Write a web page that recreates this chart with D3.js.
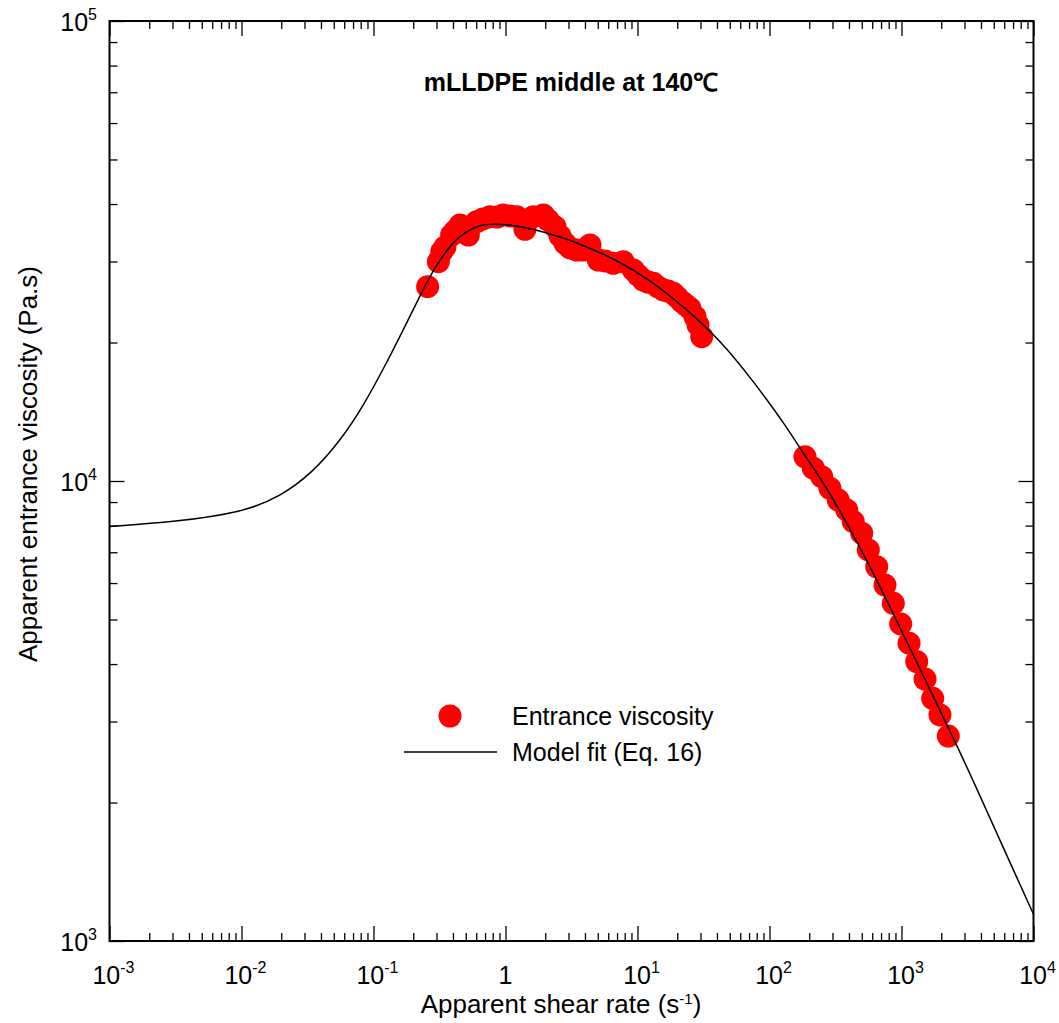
<!DOCTYPE html>
<html>
<head>
<meta charset="utf-8">
<script src="https://cdn.jsdelivr.net/npm/d3@7"></script>
<style>
  html, body { margin: 0; padding: 0; background: #fff; }
  svg { display: block; font-family: "Liberation Sans", Arial, sans-serif; }
</style>
</head>
<body>
<svg id="chart" width="1059" height="1023"></svg>
<script>
// Measured entrance viscosity: apparent shear rate (1/s) and viscosity (Pa.s)
const entranceRate = [
  0.257, 0.310, 0.329, 0.348, 0.391, 0.414, 0.452, 0.523, 0.605, 0.675, 0.763, 0.862,
  0.962, 1.082, 1.216, 1.405, 1.624, 1.933, 2.099, 2.371, 2.588, 2.824, 3.081, 3.462,
  3.865, 4.368, 5.047, 5.673, 6.557, 7.806, 9.294, 10.09, 11.06, 12.01, 13.17, 14.30,
  15.69, 17.02, 18.67, 19.92, 21.62, 23.30, 24.98, 27.27, 28.73, 30.65,
  185.7, 214.7, 248.6, 287.3, 331.9, 384.4, 431.3, 499.4, 560.4, 648.9, 749.9, 866.8,
  986, 1140, 1304, 1507, 1723, 1957, 2262
];
const entranceViscosity = [
  26450, 29980, 31510, 32270, 34260, 34950, 36010, 34260, 36620, 37120, 37550, 37490,
  37870, 37680, 37550, 35250, 37550, 37870, 36930, 35710, 34090, 32870, 32110, 31780,
  31780, 32590, 30230, 30080, 29740, 29980, 28760, 28040, 27350, 27070, 26900, 26410,
  26020, 25880, 25590, 25120, 24540, 24130, 23740, 22760, 21840, 20590,
  11290, 10660, 10220, 9640, 9090, 8650, 8160, 7700, 7080, 6510, 5940, 5420,
  4890, 4440, 4050, 3710, 3370, 3100, 2790
];

// Model fit (Eq. 16) sampled along the curve
const modelRate = [
  0.001, 0.00316, 0.01, 0.0196, 0.0348, 0.0557, 0.0832, 0.1265, 0.1795, 0.268,
  0.319, 0.400, 0.508, 0.641, 0.804, 1.081, 1.614, 2.588, 3.864, 7.0,
  12.45, 22.13, 42.17, 75.0, 135.8, 186.2, 251.2, 488.7, 863,
  1552, 2924, 5012, 10000
];
const modelViscosity = [
  7960, 8150, 8540, 9230, 10450, 12210, 14500, 18120, 22130, 28020,
  30200, 33110, 34910, 36060, 36220, 36060, 35320, 33960, 32580, 30200,
  27350, 23990, 20280, 16520, 13090, 11300, 10050, 7190, 5160,
  3640, 2500, 1770, 1143
];

// Axis decades (exponents)
const xDecades = [-3, -2, -1, 0, 1, 2, 3, 4];
const yDecades = [3, 4, 5];

const titleText = "mLLDPE middle at 140℃";
const legendLabels = ["Entrance viscosity", "Model fit (Eq. 16)"];

const svg = d3.select("#chart");
const plot = { left: 109.5, right: 1033.5, top: 21, bottom: 941 };

const x = d3.scaleLog().domain([1e-3, 1e4]).range([plot.left, plot.right]);
const y = d3.scaleLog().domain([1e3, 1e5]).range([plot.bottom, plot.top]);

// tick values: majors at decades, minors at 2..9 within each decade
const xMajor = xDecades.map(e => Math.pow(10, e));
const yMajor = yDecades.map(e => Math.pow(10, e));
const minorsOf = decs => {
  const out = [];
  for (let i = 0; i < decs.length - 1; i++)
    for (let m = 2; m <= 9; m++) out.push(m * Math.pow(10, decs[i]));
  return out;
};
const xMinor = minorsOf(xDecades);
const yMinor = minorsOf(yDecades);

const majorLen = 15, minorLen = 8;

function drawAxis(axisGen, scale, values, len, transform) {
  const g = svg.append("g").attr("transform", transform)
    .call(axisGen(scale).tickValues(values).tickSize(len).tickFormat(""));
  g.select(".domain").remove();
  g.selectAll(".tick line").attr("stroke", "#000").attr("stroke-width", 1.3);
  return g;
}

// ticks point inward on all four sides
drawAxis(d3.axisBottom, x, xMajor, -majorLen, `translate(0,${plot.bottom})`);
drawAxis(d3.axisBottom, x, xMinor, -minorLen, `translate(0,${plot.bottom})`);
drawAxis(d3.axisTop, x, xMajor, -majorLen, `translate(0,${plot.top})`);
drawAxis(d3.axisTop, x, xMinor, -minorLen, `translate(0,${plot.top})`);
drawAxis(d3.axisLeft, y, yMajor, -majorLen, `translate(${plot.left},0)`);
drawAxis(d3.axisLeft, y, yMinor, -minorLen, `translate(${plot.left},0)`);
drawAxis(d3.axisRight, y, yMajor, -majorLen, `translate(${plot.right},0)`);
drawAxis(d3.axisRight, y, yMinor, -minorLen, `translate(${plot.right},0)`);

// frame
svg.append("rect")
  .attr("x", plot.left).attr("y", plot.top)
  .attr("width", plot.right - plot.left).attr("height", plot.bottom - plot.top)
  .attr("fill", "none").attr("stroke", "#000").attr("stroke-width", 2);

// power-of-ten label with superscript exponent
function powerLabel(sel, e) {
  if (e === 0) { sel.text("1"); return; }
  sel.append("tspan").text("10");
  sel.append("tspan").attr("font-size", 16).attr("dy", -11).text(String(e));
}

// x tick labels
xDecades.forEach(e => {
  const t = svg.append("text")
    .attr("x", x(Math.pow(10, e)) + (e === 0 ? 0 : 4))
    .attr("y", 984)
    .attr("text-anchor", "middle")
    .attr("font-size", 25)
    .attr("fill", "#000");
  powerLabel(t, e);
});

// y tick labels
yDecades.forEach(e => {
  const t = svg.append("text")
    .attr("x", 97)
    .attr("y", y(Math.pow(10, e)) + 10)
    .attr("text-anchor", "end")
    .attr("font-size", 25)
    .attr("fill", "#000");
  powerLabel(t, e);
});

// axis titles
const xt = svg.append("text")
  .attr("x", 561).attr("y", 1013)
  .attr("text-anchor", "middle").attr("font-size", 26).attr("fill", "#000");
xt.append("tspan").text("Apparent shear rate (s");
xt.append("tspan").attr("font-size", 15).attr("dy", -9).text("-1");
xt.append("tspan").attr("dy", 9).text(")");

svg.append("text")
  .attr("transform", "translate(37,464) rotate(-90)")
  .attr("text-anchor", "middle").attr("font-size", 26).attr("fill", "#000")
  .text("Apparent entrance viscosity (Pa.s)");

// chart title
svg.append("text")
  .attr("x", 571).attr("y", 91)
  .attr("text-anchor", "middle").attr("font-size", 25).attr("font-weight", "bold")
  .attr("fill", "#000")
  .text(titleText);

// clip for the data region
svg.append("clipPath").attr("id", "plotClip")
  .append("rect")
  .attr("x", plot.left).attr("y", plot.top)
  .attr("width", plot.right - plot.left).attr("height", plot.bottom - plot.top);

// measured points
const points = entranceRate.map((r, i) => ({ r, v: entranceViscosity[i] }));
svg.append("g").attr("clip-path", "url(#plotClip)")
  .selectAll("circle").data(points).join("circle")
  .attr("cx", d => x(d.r)).attr("cy", d => y(d.v))
  .attr("r", 11.5).attr("fill", "#ff0000");

// model curve (smoothed through the sampled points)
const model = modelRate.map((r, i) => ({ r, v: modelViscosity[i] }));
const line = d3.line()
  .x(d => x(d.r)).y(d => y(d.v))
  .curve(d3.curveBasis);
svg.append("path")
  .attr("clip-path", "url(#plotClip)")
  .attr("d", line(model))
  .attr("fill", "none").attr("stroke", "#000").attr("stroke-width", 1.5);

// legend
svg.append("circle").attr("cx", 450).attr("cy", 716).attr("r", 11.5).attr("fill", "#ff0000");
svg.append("text").attr("x", 512).attr("y", 725)
  .attr("font-size", 25).attr("fill", "#000").text(legendLabels[0]);
svg.append("line").attr("x1", 404).attr("x2", 497).attr("y1", 752).attr("y2", 752)
  .attr("stroke", "#000").attr("stroke-width", 1.5);
svg.append("text").attr("x", 512).attr("y", 761)
  .attr("font-size", 25).attr("fill", "#000").text(legendLabels[1]);
</script>
</body>
</html>
